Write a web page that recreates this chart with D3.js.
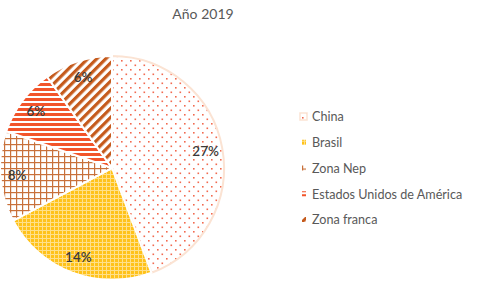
<!DOCTYPE html>
<html>
<head>
<meta charset="utf-8">
<script src="https://cdn.jsdelivr.net/npm/d3@7"></script>
<style>
  body { margin: 0; background: #fff; }
  text { font-family: Lato, "Open Sans", sans-serif; }
</style>
</head>
<body>
<div class="chart"></div>
<script>
const categories = ["China", "Brasil", "Zona Nep", "Estados Unidos de América", "Zona franca"];
const values = [27, 14, 8, 6, 6];
const labels = ["27%", "14%", "8%", "6%", "6%"];
const title = "Año 2019";

const width = 499, height = 292;
const cx = 112, cy = 168, radius = 112;

const svg = d3.select('.chart')
  .append('svg')
  .attr('width', width)
  .attr('height', height);

const defs = svg.append('defs');

// china: staggered coral dots
const pChina = defs.append('pattern').attr('id', 'p0')
  .attr('patternUnits', 'userSpaceOnUse').attr('width', 9).attr('height', 9);
pChina.append('rect').attr('width', 9).attr('height', 9).attr('fill', '#fff');
pChina.append('rect').attr('x', 0).attr('y', 0).attr('width', 1.6).attr('height', 1.6).attr('fill', '#f26a4f');
pChina.append('rect').attr('x', 4.5).attr('y', 4.5).attr('width', 1.6).attr('height', 1.6).attr('fill', '#f26a4f');

// brasil: yellow plaid
const pBr = defs.append('pattern').attr('id', 'p1')
  .attr('patternUnits', 'userSpaceOnUse').attr('width', 4).attr('height', 4);
pBr.append('rect').attr('width', 4).attr('height', 4).attr('fill', '#ffc21a');
pBr.append('rect').attr('x', 0).attr('y', 2).attr('width', 4).attr('height', 1).attr('fill', '#ffe08a');
pBr.append('rect').attr('x', 2).attr('y', 0).attr('width', 1).attr('height', 4).attr('fill', '#ffe08a');

// zona nep: brown grid
const pNep = defs.append('pattern').attr('id', 'p2')
  .attr('patternUnits', 'userSpaceOnUse').attr('width', 6).attr('height', 6);
pNep.append('rect').attr('width', 6).attr('height', 6).attr('fill', '#fff');
pNep.append('rect').attr('x', 0).attr('y', 0).attr('width', 6).attr('height', 1.2).attr('fill', '#c8703a');
pNep.append('rect').attr('x', 0).attr('y', 0).attr('width', 1.2).attr('height', 6).attr('fill', '#c8703a');

// eeuu: red horizontal stripes
const pUs = defs.append('pattern').attr('id', 'p3')
  .attr('patternUnits', 'userSpaceOnUse').attr('width', 5).attr('height', 5);
pUs.append('rect').attr('width', 5).attr('height', 5).attr('fill', '#fff');
pUs.append('rect').attr('x', 0).attr('y', 0).attr('width', 5).attr('height', 3).attr('fill', '#f2542a');

// zona franca: brown diagonal stripes
const pZf = defs.append('pattern').attr('id', 'p4')
  .attr('patternUnits', 'userSpaceOnUse').attr('width', 6.4).attr('height', 6.4)
  .attr('patternTransform', 'rotate(45)');
pZf.append('rect').attr('width', 6.4).attr('height', 6.4).attr('fill', '#fff');
pZf.append('rect').attr('x', 0).attr('y', 0).attr('width', 3.2).attr('height', 6.4).attr('fill', '#c55a1c');

const pie = d3.pie().sort(null).value(d => d);
const arc = d3.arc().innerRadius(0).outerRadius(radius);
const labelArc = d3.arc().innerRadius(radius * 0.85).outerRadius(radius * 0.85);

const g = svg.append('g').attr('transform', `translate(${cx}, ${cy})`);

const arcs = pie(values);

g.selectAll('path.slice')
  .data(arcs)
  .enter()
  .append('path')
  .attr('class', 'slice')
  .attr('d', arc)
  .attr('fill', (d, i) => `url(#p${i})`)
  .attr('stroke', (d, i) => i === 0 ? '#fbe3d3' : '#fff')
  .attr('stroke-width', 2);

g.selectAll('text.lbl')
  .data(arcs)
  .enter()
  .append('text')
  .attr('class', 'lbl')
  .attr('transform', (d, i) => {
    const c = labelArc.centroid(d);
    return `translate(${c[0]}, ${c[1]})`;
  })
  .attr('text-anchor', 'middle')
  .attr('dy', '0.35em')
  .attr('fill', '#3a3a3a')
  .style('font-size', '13.5px')
  .style('font-weight', 600)
  .text((d, i) => labels[i]);

svg.append('text')
  .attr('x', 203)
  .attr('y', 19)
  .attr('text-anchor', 'middle')
  .attr('fill', '#595959')
  .style('font-size', '14px')
  .text(title);

// legend
const legendY = d3.scalePoint().domain(categories).range([117, 220]);

const leg = svg.selectAll('g.leg')
  .data(categories)
  .enter()
  .append('g')
  .attr('class', 'leg')
  .attr('transform', d => `translate(302, ${legendY(d)})`);

leg.append('rect')
  .attr('x', (d, i) => i === 0 ? -2 : 0)
  .attr('y', (d, i) => i === 0 ? -4 : -3)
  .attr('width', (d, i) => i === 0 ? 7 : 4)
  .attr('height', (d, i) => i === 0 ? 7 : 5)
  .attr('fill', (d, i) => `url(#p${i})`)
  .attr('stroke', (d, i) => i === 0 ? '#fbe3d3' : 'none')
  .attr('stroke-width', 1.5);

leg.append('text')
  .attr('x', 10)
  .attr('dy', '0.35em')
  .attr('fill', '#595959')
  .style('font-size', '12.6px')
  .text(d => d);
</script>
</body>
</html>
